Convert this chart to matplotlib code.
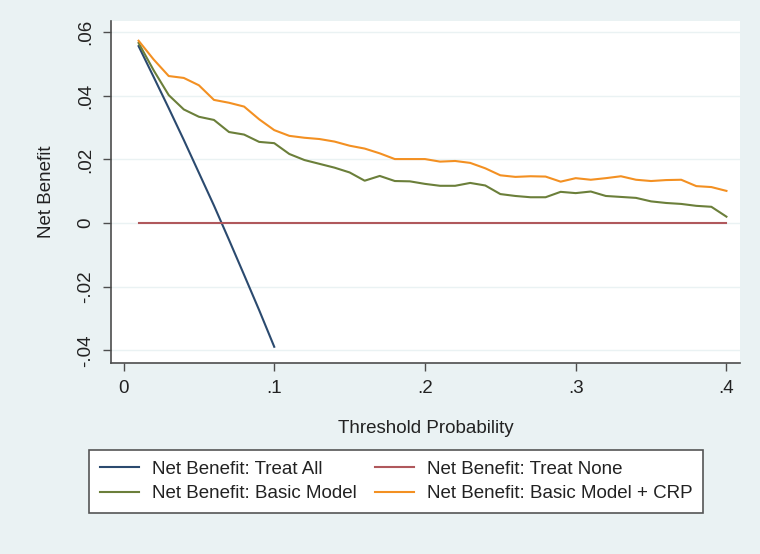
import matplotlib.pyplot as plt

plt.rcParams['font.family'] = ['Liberation Sans', 'DejaVu Sans']

# threshold probabilities
thresholds = [0.01, 0.02, 0.03, 0.04, 0.05, 0.06, 0.07, 0.08, 0.09, 0.10,
              0.11, 0.12, 0.13, 0.14, 0.15, 0.16, 0.17, 0.18, 0.19, 0.20,
              0.21, 0.22, 0.23, 0.24, 0.25, 0.26, 0.27, 0.28, 0.29, 0.30,
              0.31, 0.32, 0.33, 0.34, 0.35, 0.36, 0.37, 0.38, 0.39, 0.40]

treat_all_x = [0.01, 0.02, 0.03, 0.04, 0.05, 0.06, 0.07, 0.08, 0.09, 0.10]
treat_all = [0.0556, 0.0459, 0.0361, 0.0261, 0.0158, 0.0055, -0.0053,
             -0.0163, -0.0274, -0.0389]

treat_none = [0.0] * len(thresholds)

basic_model = [0.0566, 0.0480, 0.0402, 0.0357, 0.0334, 0.0324, 0.0286, 0.0278,
               0.0255, 0.0251, 0.0217, 0.0198, 0.0186, 0.0174, 0.0159, 0.0133,
               0.0148, 0.0132, 0.0131, 0.0123, 0.0117, 0.0117, 0.0126, 0.0118,
               0.0091, 0.0085, 0.0081, 0.0081, 0.0098, 0.0094, 0.0099, 0.0085,
               0.0082, 0.0079, 0.0068, 0.0063, 0.0060, 0.0054, 0.0051, 0.0020]

basic_crp = [0.0573, 0.0514, 0.0462, 0.0456, 0.0433, 0.0387, 0.0378, 0.0366,
             0.0326, 0.0292, 0.0274, 0.0268, 0.0264, 0.0256, 0.0243, 0.0234,
             0.0219, 0.0201, 0.0201, 0.0201, 0.0193, 0.0195, 0.0189, 0.0172,
             0.0150, 0.0145, 0.0147, 0.0146, 0.0130, 0.0141, 0.0136, 0.0141,
             0.0147, 0.0136, 0.0132, 0.0135, 0.0136, 0.0116, 0.0113, 0.0101]

x_ticks = [0, 0.1, 0.2, 0.3, 0.4]
x_labels = ['0', '.1', '.2', '.3', '.4']
y_ticks = [-0.04, -0.02, 0, 0.02, 0.04, 0.06]
y_labels = ['-.04', '-.02', '0', '.02', '.04', '.06']

bg = '#eaf2f3'
axis_col = '#4d4d4d'
fs = 13.5

fig = plt.figure(figsize=(7.6, 5.54), dpi=100, facecolor=bg)
ax = fig.add_axes([111 / 760, 1 - 363 / 554, 629 / 760, 342 / 554])
ax.set_facecolor('white')

l_all, = ax.plot(treat_all_x, treat_all, color='#2b4a6f', lw=1.5)
l_none, = ax.plot(thresholds, treat_none, color='#b0585c', lw=1.5)
l_basic, = ax.plot(thresholds, basic_model, color='#6b7f3a', lw=1.5)
l_crp, = ax.plot(thresholds, basic_crp, color='#f39022', lw=1.5)

ax.set_xlim(-0.0083, 0.409)
ax.set_ylim(-0.0440, 0.0635)
ax.set_xticks(x_ticks)
ax.set_xticklabels(x_labels)
ax.set_yticks(y_ticks)
ax.set_yticklabels(y_labels, rotation=90, va='center')
ax.grid(axis='y', color=bg, lw=1)
ax.set_axisbelow(True)

for side in ['top', 'right']:
    ax.spines[side].set_visible(False)
for side in ['left', 'bottom']:
    ax.spines[side].set_color(axis_col)
    ax.spines[side].set_linewidth(1.2)
ax.tick_params(direction='out', length=6, width=1, color=axis_col,
               labelsize=fs, labelcolor='#222222', pad=6)

ax.set_xlabel('Threshold Probability', fontsize=fs, color='#222222', labelpad=17)
ax.set_ylabel('Net Benefit', fontsize=fs, color='#222222', labelpad=16)

# column-wise fill: first column gets all / basic, second none / crp
handles = [l_all, l_basic, l_none, l_crp]
labels = ['Net Benefit: Treat All', 'Net Benefit: Basic Model',
          'Net Benefit: Treat None', 'Net Benefit: Basic Model + CRP']
leg = fig.legend(handles, labels, ncol=2, loc='upper left',
                 bbox_to_anchor=(89 / 760, 1 - 450 / 554),
                 frameon=True, fancybox=False, framealpha=1,
                 edgecolor='#555555', fontsize=fs, handlelength=2.1,
                 handletextpad=0.7, columnspacing=0.95, borderpad=0.56,
                 borderaxespad=0, labelspacing=0.4)
leg.get_frame().set_linewidth(1.2)
for t in leg.get_texts():
    t.set_color('#222222')

fig.savefig('out.png', dpi=100, facecolor=bg)
